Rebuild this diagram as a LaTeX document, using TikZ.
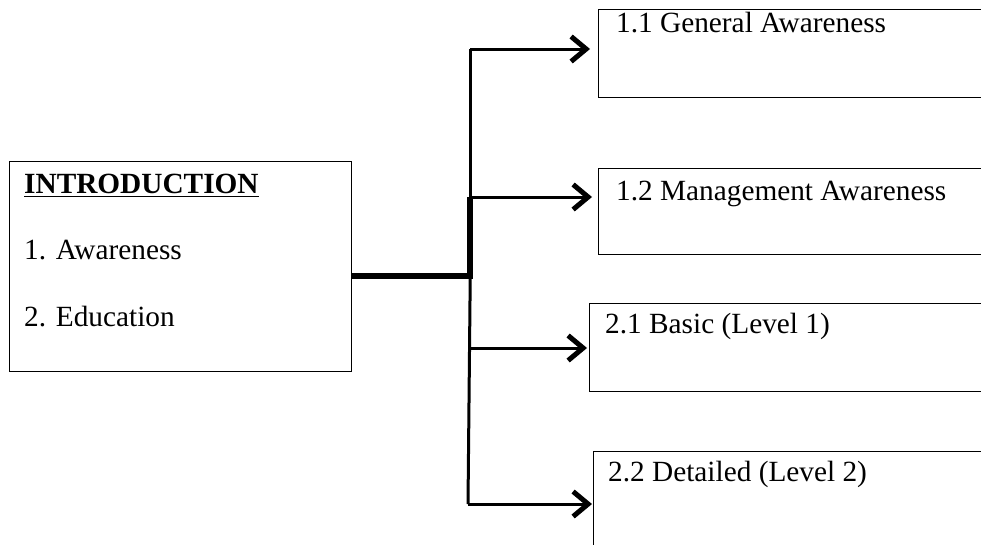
\documentclass[tikz,border=0pt]{standalone}
\usepackage{fontspec}
\setmainfont{Liberation Serif}
\usetikzlibrary{arrows.meta}
\begin{document}
\begin{tikzpicture}[x=1pt,y=-1pt,
  box/.style={draw=black,line width=1.1pt,inner sep=0pt,anchor=north west},
  label/.style={inner sep=0pt,anchor=base west,font=\fontsize{29.3}{34}\selectfont},
  thin/.style={line width=3pt},
  thick/.style={line width=5.2pt},
  branch/.style={line width=3pt,-{Straight Barb[length=15pt,width=25pt,line width=5pt]}}]
\useasboundingbox (0,0) rectangle (981,544);
\clip (0,0) rectangle (981,544);

% left box with its three lines
\node[box,minimum width=342pt,minimum height=210pt] (intro) at (9,161) {};
\node[label] (title) at (24,193) {\textbf{INTRODUCTION}};
\draw[line width=1.5pt] (title.base west) ++(0,3.5) -- (title.base east |- 0,196.5);
\node[label] (aw) at (24,259) {1. Awareness};
\node[label] (ed) at (24,326) {2. Education};

% right boxes (open to the right edge)
\node[box,minimum width=397pt,minimum height=88pt] (b1) at (598,9) {};
\node[label] (t1) at (616,32) {1.1 General Awareness};
\node[box,minimum width=397pt,minimum height=86pt] (b2) at (598,168) {};
\node[label] (t2) at (616,200) {1.2 Management Awareness};
\node[box,minimum width=406pt,minimum height=88pt] (b3) at (589,303) {};
\node[label] (t3) at (605,333) {2.1 Basic (Level 1)};
\node[box,minimum width=402pt,minimum height=110pt] (b4) at (593,451) {};
\node[label] (t4) at (608,481) {2.2 Detailed (Level 2)};

% bus points
\coordinate (j) at (470,276);
\coordinate (p1) at (470,49);
\coordinate (p2) at (470,197);
\coordinate (p3) at (468,348);
\coordinate (p4) at (468,504);

% connectors
\draw[thick] (intro.east |- j) -- (j) -- (p2);
\draw[thin] (p2) -- (p1);
\draw[thin] (j) -- (470,300) -- (p4);
\draw[branch,shorten >=8pt] (p1) -- (b1.west |- p1);
\draw[branch,shorten >=6pt] (p2) -- (b2.west |- p2);
\draw[branch,shorten >=2pt] (p3) -- (b3.west |- p3);
\draw[branch,shorten >=1pt] (p4) -- (b4.west |- p4);
\end{tikzpicture}
\end{document}
